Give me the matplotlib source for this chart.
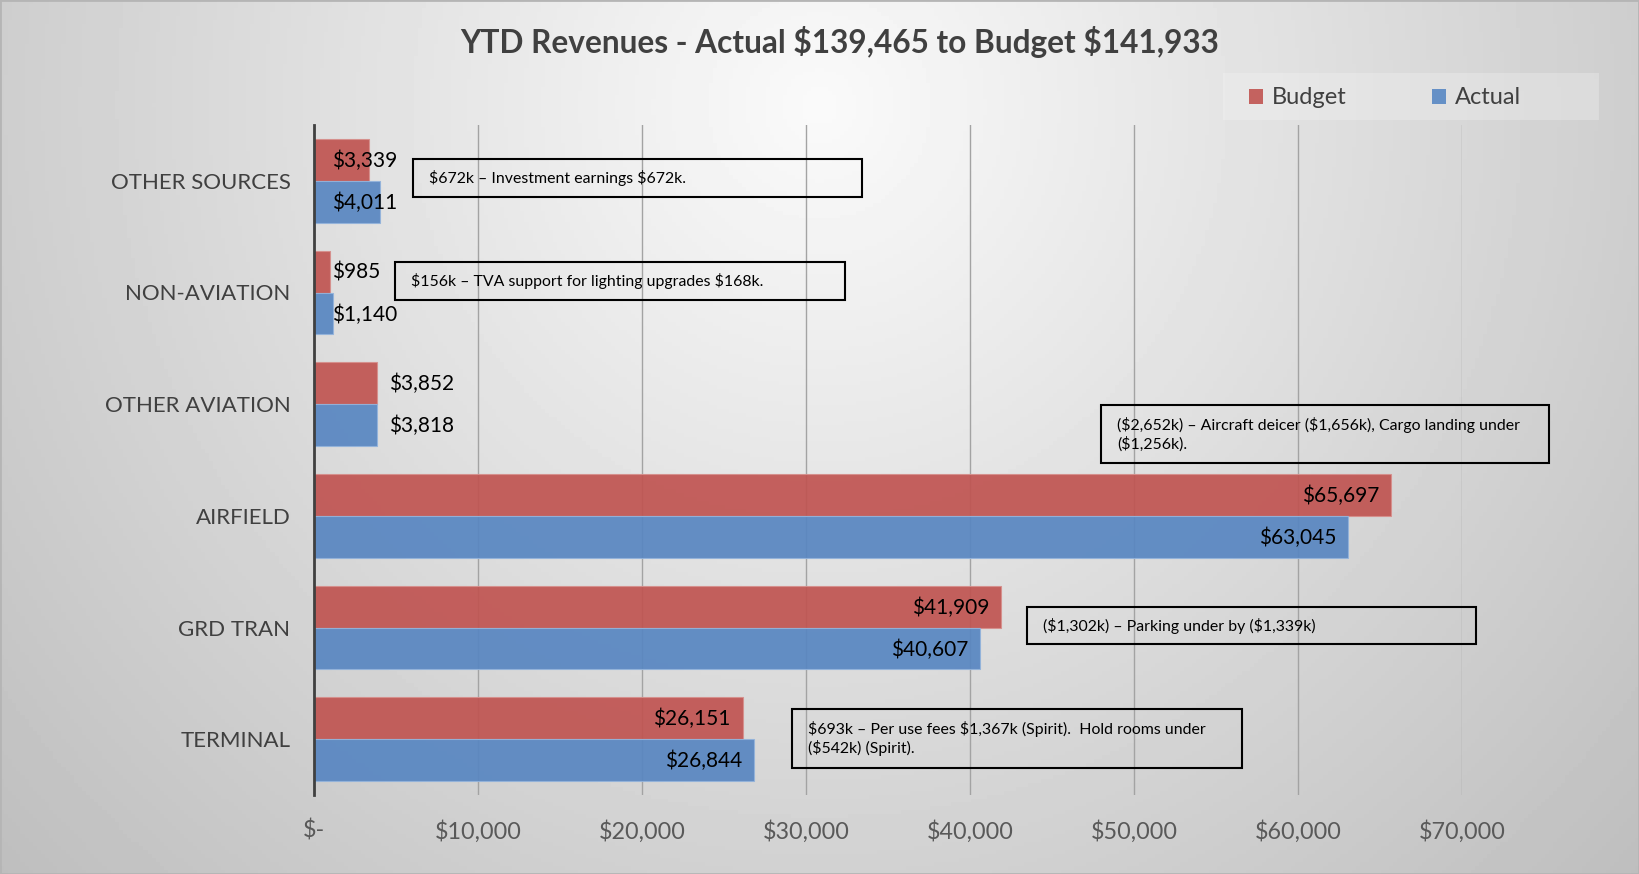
import numpy as np
import matplotlib
matplotlib.use('Agg')
from matplotlib import pyplot as plt
from matplotlib.patches import Rectangle, Patch

plt.rcParams['font.family'] = ['Lato', 'DejaVu Sans']
plt.rcParams['text.parse_math'] = False

categories = ['TERMINAL', 'GRD TRAN', 'AIRFIELD', 'OTHER AVIATION', 'NON-AVIATION', 'OTHER SOURCES']
budget = [26151, 41909, 65697, 3852, 985, 3339]
actual = [26844, 40607, 63045, 3818, 1140, 4011]
label_mode = ['inside', 'inside', 'inside', 'outside', 'base', 'base']

x_ticks = [0, 10000, 20000, 30000, 40000, 50000, 60000, 70000]
x_tick_labels = ['$-', '$10,000', '$20,000', '$30,000', '$40,000', '$50,000', '$60,000', '$70,000']

notes = [
    '$672k \u2013 Investment earnings $672k.',
    '$156k \u2013 TVA support for lighting upgrades $168k.',
    '($2,652k) \u2013 Aircraft deicer ($1,656k), Cargo landing under\n($1,256k).',
    '($1,302k) \u2013 Parking under by ($1,339k)',
    '$693k \u2013 Per use fees $1,367k (Spirit).  Hold rooms under\n($542k) (Spirit).',
]
# box left, top, right, bottom in pixels
note_boxes = [(413, 159, 862, 197), (395, 262, 845, 300), (1101, 405, 1549, 463),
              (1027, 607, 1476, 644), (792, 709, 1242, 768)]

W, H = 1639, 874
fig = plt.figure(figsize=(W / 100, H / 100), dpi=100)


def fx(x):
    return x / W


def fy(y):
    return 1 - y / H


# background gradient
bg = fig.add_axes([0, 0, 1, 1], zorder=-10)
gx, gy = np.meshgrid(np.linspace(0, 1, 400), np.linspace(0, 1, 220))
r = np.sqrt(((gx - 0.5) / 0.5) ** 2 + ((gy - 0.12) / 0.95) ** 2)
val = np.clip(250 - 44 * r, 190, 252) / 255
bg.imshow(val, cmap='gray', vmin=0, vmax=1, aspect='auto', extent=[0, 1, 1, 0])
bg.set_xlim(0, 1)
bg.set_ylim(1, 0)
bg.axis('off')

ax = fig.add_axes([fx(314), fy(795), fx(1462) - fx(314), fy(125) - fy(795)])
ax.set_facecolor('none')

y = np.arange(len(categories))
h = 0.376
ax.barh(y + h / 2, budget, height=h, color='#C05451', alpha=0.92,
        edgecolor='#d68f8c', linewidth=0.8, label='Budget', zorder=3)
ax.barh(y - h / 2, actual, height=h, color='#5886C1', alpha=0.92,
        edgecolor='#93b3db', linewidth=0.8, label='Actual', zorder=3)

for vals, yy in ((budget, y + h / 2), (actual, y - h / 2)):
    for v, yi, mode in zip(vals, yy, label_mode):
        txt = '${:,}'.format(v)
        if mode == 'inside':
            ax.annotate(txt, (v, yi), xytext=(-12, -1), textcoords='offset pixels',
                        ha='right', va='center', fontsize=15, color='black', zorder=5)
        elif mode == 'outside':
            ax.annotate(txt, (v, yi), xytext=(12, -1), textcoords='offset pixels',
                        ha='left', va='center', fontsize=15, color='black', zorder=5)
        else:
            ax.annotate(txt, (0, yi), xytext=(18, -1), textcoords='offset pixels',
                        ha='left', va='center', fontsize=15, color='black', zorder=5)

ax.set_xlim(0, 70000)
ax.set_ylim(-0.5, len(categories) - 0.5)
ax.set_xticks(x_ticks)
ax.set_xticklabels(x_tick_labels, fontsize=16.8, color='#595959')
ax.set_yticks(y)
ax.set_yticklabels(categories, fontsize=16, color='#404040')
ax.tick_params(axis='both', length=0)
ax.tick_params(axis='x', pad=18)
ax.tick_params(axis='y', pad=17)
ax.xaxis.grid(True, color='#a3a3a3', linewidth=1, zorder=1)
ax.set_axisbelow(True)
for s in ['top', 'right', 'bottom']:
    ax.spines[s].set_visible(False)
ax.spines['left'].set_color('#404040')
ax.spines['left'].set_linewidth(2)
ax.spines['left'].set_zorder(6)

fig.text(fx(840), fy(42), 'YTD Revenues - Actual $139,465 to Budget $141,933',
         ha='center', va='center', fontsize=22.8, fontweight='bold', color='#404040')

# legend background and legend
fig.add_artist(Rectangle((fx(1223), fy(120)), fx(1599) - fx(1223), fy(73) - fy(120),
                         transform=fig.transFigure, facecolor='#f6f6f6', alpha=0.3,
                         edgecolor='none', zorder=0.5))
handles = [Patch(facecolor='#C4625F'), Patch(facecolor='#6590C6')]
fig.legend(handles, ['Budget', 'Actual'], loc='center', bbox_to_anchor=(fx(1385), fy(98)),
           ncol=2, frameon=False, fontsize=17, labelcolor='#404040',
           handlelength=0.58, handleheight=0.58, handletextpad=0.4, columnspacing=3.6)

# note boxes
for text, (l, t, rr, bb) in zip(notes, note_boxes):
    fig.add_artist(Rectangle((fx(l), fy(bb)), fx(rr) - fx(l), fy(t) - fy(bb),
                             transform=fig.transFigure, facecolor='none',
                             edgecolor='black', linewidth=1.5, zorder=7))
    fig.text(fx(l + 16), fy((t + bb) / 2), text, ha='left', va='center',
             fontsize=11.4, color='black', linespacing=1.3, zorder=8)

# outer border
fig.add_artist(Rectangle((0, 0), 1, 1, transform=fig.transFigure, facecolor='none',
                         edgecolor='#b5b5b5', linewidth=2, zorder=9))

fig.savefig('out.png', dpi=100)
